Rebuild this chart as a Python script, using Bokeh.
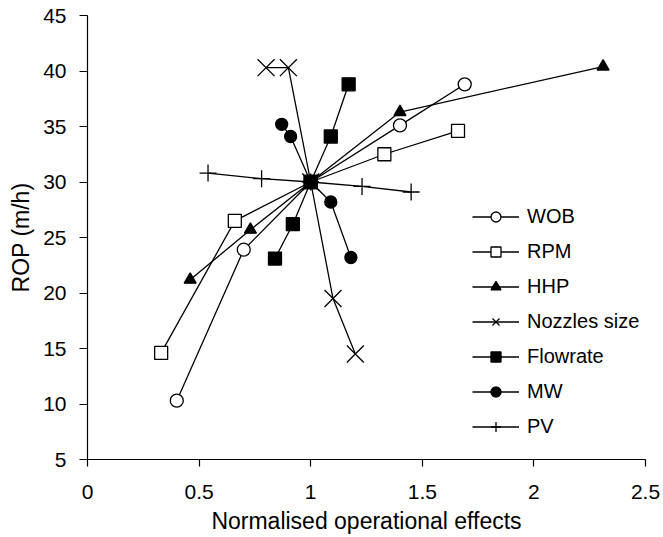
from bokeh.plotting import figure
from bokeh.models import Legend, LegendItem, Range1d, FixedTicker
from bokeh.embed import file_html
from bokeh.resources import INLINE

series_names = ["WOB", "RPM", "HHP", "Nozzles size", "Flowrate", "MW", "PV"]

wob_x = [0.40, 0.70, 1.00, 1.40, 1.69]
wob_y = [10.3, 23.9, 30.0, 35.1, 38.8]
rpm_x = [0.33, 0.66, 1.00, 1.33, 1.66]
rpm_y = [14.6, 26.5, 30.0, 32.5, 34.6]
hhp_x = [0.46, 0.73, 1.00, 1.40, 2.31]
hhp_y = [21.2, 25.7, 30.0, 36.3, 40.4]
noz_x = [0.80, 0.90, 1.00, 1.10, 1.20]
noz_y = [40.3, 40.3, 30.0, 19.5, 14.5]
flow_x = [0.84, 0.92, 1.00, 1.09, 1.17]
flow_y = [23.1, 26.2, 30.0, 34.1, 38.8]
mw_x = [0.87, 0.91, 1.00, 1.09, 1.18]
mw_y = [35.2, 34.1, 30.0, 28.2, 23.2]
pv_x = [0.54, 0.78, 1.00, 1.23, 1.45]
pv_y = [30.8, 30.3, 30.0, 29.6, 29.1]

x_ticks = [0, 0.5, 1, 1.5, 2, 2.5]
y_ticks = [5, 10, 15, 20, 25, 30, 35, 40, 45]

FONT = "Liberation Sans"

p = figure(width=663, height=537, output_backend="svg", toolbar_location=None,
           x_range=Range1d(0, 2.5), y_range=Range1d(5, 45),
           min_border_left=87, min_border_right=18, min_border_top=15, min_border_bottom=78)
p.outline_line_color = None
p.xgrid.visible = False
p.ygrid.visible = False
p.background_fill_color = "white"
p.border_fill_color = "white"

for ax in (p.xaxis[0], p.yaxis[0]):
    ax.major_tick_in = 0
    ax.minor_tick_line_color = None
    ax.axis_line_color = "black"
    ax.major_tick_line_color = "black"
    ax.axis_line_width = 1.2
    ax.major_tick_line_width = 1.2
    ax.major_label_text_font = FONT
    ax.major_label_text_font_size = "21px"
    ax.major_label_text_color = "black"
    ax.axis_label_text_font = FONT
    ax.axis_label_text_font_size = "23px"
    ax.axis_label_text_font_style = "normal"
    ax.axis_label_text_color = "black"

p.xaxis[0].major_tick_out = 7
p.yaxis[0].major_tick_out = 8
p.xaxis[0].ticker = FixedTicker(ticks=x_ticks)
p.yaxis[0].ticker = FixedTicker(ticks=y_ticks)
p.xaxis[0].major_label_overrides = {0: "0", 0.5: "0.5", 1: "1", 1.5: "1.5", 2: "2", 2.5: "2.5"}
p.xaxis[0].axis_label = "Normalised operational effects"
p.yaxis[0].axis_label = "ROP (m/h)"
p.xaxis[0].major_label_standoff = 18
p.yaxis[0].major_label_standoff = 13
p.xaxis[0].axis_label_standoff = 6
p.yaxis[0].axis_label_standoff = 6

LW = 1.3
items = []

def add(name, xs, ys, marker, size, fill):
    l = p.line(xs, ys, line_color="black", line_width=LW)
    s = p.scatter(xs, ys, marker=marker, size=size, line_color="black",
                  fill_color=fill, line_width=LW)
    items.append(LegendItem(label=name, renderers=[l, s]))

add(series_names[0], wob_x, wob_y, "circle", 13, "white")
add(series_names[1], rpm_x, rpm_y, "square", 13, "white")
add(series_names[2], hhp_x, hhp_y, "triangle", 12, "black")
add(series_names[3], noz_x, noz_y, "x", 24, "black")
add(series_names[4], flow_x, flow_y, "square", 13, "black")
add(series_names[5], mw_x, mw_y, "circle", 12, "black")
add(series_names[6], pv_x, pv_y, "cross", 17, "black")

legend = Legend(items=items, location=(385, 20), padding=0, margin=0,
                border_line_color=None, background_fill_alpha=0,
                glyph_width=47, glyph_height=25, label_height=25, spacing=10,
                label_standoff=8, label_text_font=FONT, label_text_font_size="20px",
                label_text_color="black")
p.add_layout(legend, "center")

open("out.html", "w").write(file_html(p, INLINE))
